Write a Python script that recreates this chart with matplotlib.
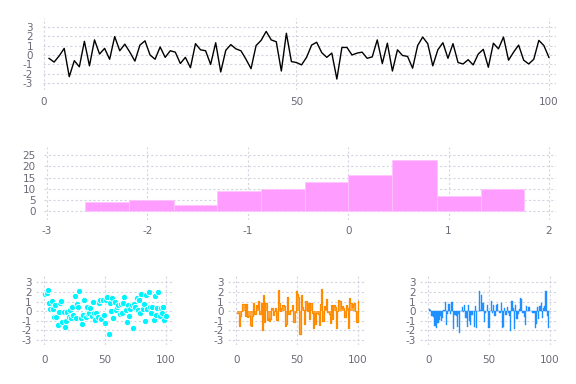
import matplotlib
matplotlib.use("Agg")
import matplotlib.pyplot as plt
import numpy as np

plt.rcParams["axes.unicode_minus"] = False

# top line series (100 points)
line_y = [-0.36, -0.75, -0.1, 0.7, -2.3, -0.6, -1.25, 1.45, -1.15, 1.6,
          0.1, 0.7, -0.45, 1.95, 0.45, 1.15, 0.3, -0.65, 1.05, 1.5,
          0.0, -0.45, 0.85, -0.25, 0.45, 0.3, -0.9, -0.25, -1.35, 1.2,
          0.55, 0.45, -1.0, 1.3, -1.8, 0.5, 1.1, 0.65, 0.45, -0.45,
          -1.45, 1.0, 1.55, 2.5, 1.6, 1.4, -1.7, 2.3, -0.7, -0.8,
          -1.05, -0.25, 1.05, 1.35, 0.25, -0.25, 0.2, -2.55, 0.8, 0.8,
          0.0, 0.2, 0.3, -0.35, -0.2, 1.6, -0.9, 1.25, -1.7, 0.55,
          -0.05, -0.15, -1.4, 1.0, 1.9, 1.2, -1.15, 0.55, 1.3, -0.35,
          1.2, -0.8, -0.95, -0.5, -1.05, 0.1, 0.6, -1.3, 1.25, 0.65,
          1.9, -0.55, 0.3, 1.05, -0.55, -0.95, -0.45, 1.55, 1.0, -0.25]

# histogram bins and counts
hist_edges = [-2.62, -2.18, -1.74, -1.31, -0.87, -0.43, 0.0, 0.44, 0.88, 1.32, 1.75]
hist_counts = [4, 5, 3, 9, 10, 13, 16, 23, 7, 10]

# bottom left scatter
scatter_y = [1.75, 1.85, 2.15, 0.9, 0.2, 1.1, 0.2, -0.6, 0.65, -0.6,
             -1.45, -0.1, 0.9, 1.1, -1.1, -0.1, -1.6, -1.0, -0.1, -0.6,
             0.1, -0.75, 0.45, -0.4, 1.6, -0.75, 0.7, 0.45, 2.1, -0.75,
             -1.3, -0.4, 1.15, -0.6, 0.45, -0.3, -0.15, 0.3, -0.5, 1.0,
             -0.2, -0.9, -0.2, -0.65, 0.9, 1.15, -0.85, 1.2, -0.4, -1.25,
             1.2, 1.45, -2.4, 0.8, 0.0, 1.35, -0.75, 1.0, 0.1, 0.45,
             0.65, -0.3, 0.7, -0.2, 0.9, 1.45, 0.1, -1.1, 0.65, -0.5,
             0.2, 0.6, -1.75, 0.75, 0.45, 1.35, 0.1, 1.15, -0.2, 1.75,
             0.2, 0.7, -1.0, 1.7, 0.2, 1.95, 0.45, -0.2, 0.45, -0.9,
             1.6, -0.4, 0.35, 1.95, -0.5, 0.3, -0.2, 0.45, -0.9, -0.5]

# bottom middle step series
step_y = [-0.2, -1.5, -0.5, 0.0, 0.7, 0.7, -0.5, 0.7, -0.6, -0.5,
          -1.4, -1.5, -0.5, 0.9, -0.3, 0.6, 0.3, 1.1, -0.3, 0.8,
          -2.0, 1.7, -1.1, 0.8, -0.9, -0.7, -1.0, -0.8, 0.3, -0.4,
          0.0, 0.3, -0.9, 2.2, 0.8, 0.0, 0.3, 0.6, 0.5, -1.5,
          -1.3, 1.5, -0.3, 0.1, 0.1, 0.6, -1.1, -0.1, 2.1, 1.8,
          1.5, -2.4, 1.7, 0.4, 0.1, -1.3, 1.1, 0.0, 0.8, -0.8,
          0.8, -0.2, -1.7, -0.2, -1.3, -0.2, -0.3, -1.4, 0.7, 2.3,
          -1.0, 0.5, 0.2, 1.3, -0.1, -0.3, -1.2, 0.6, -0.8, 0.6,
          0.4, -1.7, 0.0, 1.2, 1.1, 0.3, 0.5, 0.3, -0.6, 0.6,
          0.3, -1.7, 1.4, 0.8, 0.4, 0.7, 0.8, 0.0, -1.1, 1.1]

# bottom right bars
bar_y = [0.2, 0.1, -0.5, -0.6, -1.5, -1.5, -1.7, -1.2, -0.9, -0.5,
         -1.0, -0.7, 0.1, 1.0, -1.4, -0.3, 0.7, -0.3, 1.0, 1.0,
         -1.9, -0.4, -0.5, -1.6, -0.3, -2.3, 0.0, 0.4, -0.1, 0.6,
         -0.7, -1.6, 0.6, -1.0, -1.4, -0.4, 0.0, -1.6, 0.5, -1.7,
         0.0, 2.1, 0.1, 1.7, 0.8, -1.1, -0.2, 0.0, 0.6, -1.8,
         0.0, 1.1, -0.2, 0.6, -0.5, 0.6, 0.7, 0.0, -0.2, 0.8,
         -1.8, -1.6, 0.3, -0.4, 0.4, -0.2, -0.5, -2.1, 1.1, 0.3,
         -1.9, 0.6, -0.8, -0.3, 0.2, 1.4, 1.3, -0.2, -0.6, -1.4,
         0.5, 0.0, 0.4, 0.0, 0.0, -0.2, -0.2, -1.8, -1.3, 0.4,
         -0.8, 0.5, 0.9, -0.7, 0.3, 0.5, 2.1, -0.5, -1.8, 0.0]

W, H = 576, 384
fig = plt.figure(figsize=(W / 100, H / 100), dpi=100)

GRID = "#d4d4e2"
TXT = "#6a6a78"


def px_axes(l, t, r, b):
    return fig.add_axes([l / W, 1 - b / H, (r - l) / W, (b - t) / H])


def style(ax, xpad, ypad):
    for s in ax.spines.values():
        s.set_visible(False)
    ax.grid(True, color=GRID, linestyle=(0, (2, 2)), linewidth=0.8)
    ax.set_axisbelow(True)
    ax.tick_params(length=0, labelsize=7.5, colors=TXT)
    ax.tick_params(axis="x", pad=xpad)
    ax.tick_params(axis="y", pad=ypad)


xs = np.arange(1, 101)

# top: line
ax1 = px_axes(43, 18, 556, 90)
ax1.plot(xs, line_y, color="black", linewidth=1)
ax1.set_xlim(-0.2, 101.4)
ax1.set_ylim(-3.71, 3.92)
ax1.set_xticks([0, 50, 100])
ax1.set_yticks([-3, -2, -1, 0, 1, 2, 3])
style(ax1, 5, 7)

# middle: histogram
ax2 = px_axes(44, 147, 556, 220)
edges = np.array(hist_edges)
ax2.bar(edges[:-1], hist_counts, width=np.diff(edges), align="edge",
        color="#ff9cff", edgecolor="#ffc4ff", linewidth=0.5)
ax2.set_xlim(-3.03, 2.07)
ax2.set_ylim(-3.9, 28.7)
ax2.set_xticks([-3, -2, -1, 0, 1, 2])
ax2.set_yticks([0, 5, 10, 15, 20, 25])
style(ax2, 4, 6)

# bottom row
ylim_b = (-3.52, 3.76)
xlim_b = (-6.8, 105.2)
yt = [-3, -2, -1, 0, 1, 2, 3]

ax3 = px_axes(36, 275, 172, 345)
ax3.scatter(xs, scatter_y, s=20, color="#00f4ff", edgecolor="white",
            linewidth=0.6, zorder=3)
ax4 = px_axes(228, 275, 364, 345)
ax4.fill_between(xs, step_y, 0, step="post", color="darkorange",
                 alpha=0.75, linewidth=0)
ax4.step(xs, step_y, where="post", color="darkorange", linewidth=0.9)
ax5 = px_axes(420, 275, 556, 345)
ax5.bar(xs, bar_y, width=1.0, color="dodgerblue", edgecolor="dodgerblue",
        linewidth=0.3)

for ax in (ax3, ax4, ax5):
    ax.set_xlim(*xlim_b)
    ax.set_ylim(*ylim_b)
    ax.set_xticks([0, 50, 100])
    ax.set_yticks(yt)
    style(ax, 7, 3)

fig.savefig("out.png", dpi=100)
